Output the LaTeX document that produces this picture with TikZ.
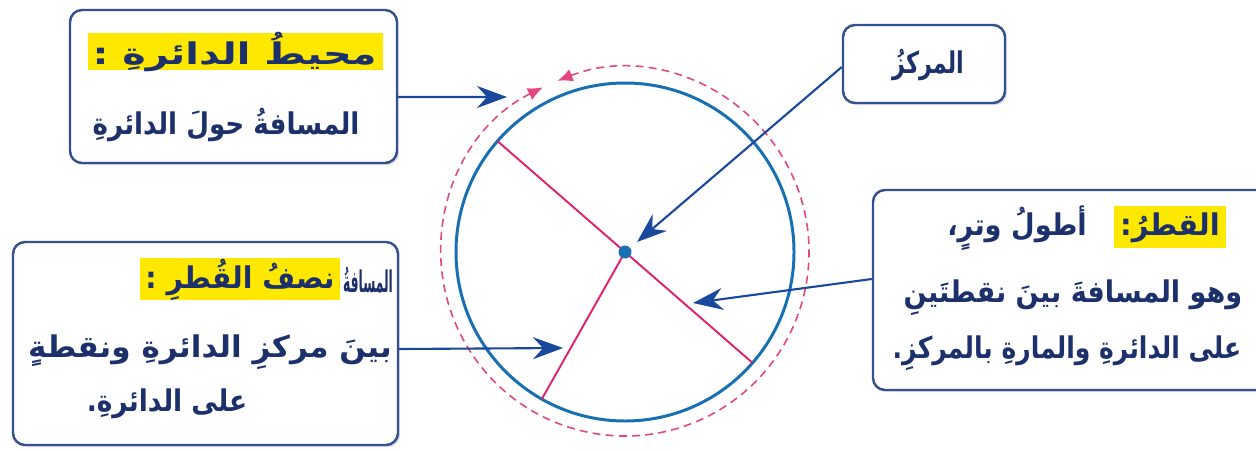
\documentclass[tikz,border=0pt]{standalone}
\usepackage{fontspec}
\usetikzlibrary{arrows.meta,shadows,calc}
\TeXXeTstate=1
\newfontfamily\arfont[Script=Arabic]{DejaVu Sans}
\definecolor{boxline}{RGB}{52,80,143}
\definecolor{txt}{RGB}{28,48,108}
\definecolor{hl}{RGB}{255,232,0}
\definecolor{circblue}{RGB}{24,112,178}
\definecolor{magline}{RGB}{226,34,110}
\definecolor{magdash}{RGB}{228,70,130}
\definecolor{arrblue}{RGB}{26,72,156}
\newsavebox\arbox
% #1 = target width in px (1px = 0.5669pt); #2 = text (with \beginR ... \endR)
\newcommand\ARW[2]{\sbox\arbox{\arfont\bfseries\fontsize{17}{20}\selectfont #2}%
  \pgfmathsetmacro\arsx{#1*0.5669/\wd\arbox}%
  \scalebox{\arsx}[1]{\usebox\arbox}}
\tikzset{
  infobox/.style={draw=boxline, line width=1.4pt, fill=white, rounded corners=2.4mm,
    drop shadow={opacity=0.25, shadow xshift=1.2pt, shadow yshift=-1.2pt}},
  hlbox/.style={fill=hl, inner sep=0pt},
  label/.style={text=txt, inner sep=0pt},
  conn/.style={draw=arrblue, line width=1.2pt, -{Stealth[length=6mm,width=4.4mm,inset=2mm]}},
}
\begin{document}
\begin{tikzpicture}[x=0.02cm,y=-0.02cm]
\useasboundingbox (0,0) rectangle (1256,450);
\fill[white] (0,0) rectangle (1256,450);
\begin{scope}
\clip (0,0) rectangle (1256,450);
% boxes
\node[infobox, minimum width={327*0.02cm}, minimum height={153*0.02cm}] (b1) at (233.5,86.5) {};
\node[infobox, minimum width={162*0.02cm}, minimum height={78*0.02cm}] (b2) at (924,64) {};
\node[infobox, minimum width={417*0.02cm}, minimum height={200*0.02cm}] (b3) at (1081.5,290) {};
\node[infobox, minimum width={385*0.02cm}, minimum height={203*0.02cm}] (b4) at (205.5,343.5) {};
% highlights
\node[hlbox, minimum width={295*0.02cm}, minimum height={37*0.02cm}] (h1) at (235.5,51.5) {};
\node[hlbox, minimum width={112*0.02cm}, minimum height={42*0.02cm}] (h3) at (1170,227) {};
\node[hlbox, minimum width={200*0.02cm}, minimum height={42*0.02cm}] (h4) at (240,279) {};
% texts
\node[label] (t1a) at (234.5,52) {\ARW{285}{\beginR محيطُ الدائرةِ :\endR}};
\node[label] (t1b) at (226,125) {\ARW{268}{\beginR المسافةُ حولَ الدائرةِ\endR}};
\node[label] (t2) at (928,65) {\ARW{72}{\beginR المركزُ\endR}};
\node[label] (t3a) at (1170,228) {\ARW{100}{\beginR القطرُ:\endR}};
\node[label] (t3b) at (1017,228) {\ARW{140}{\beginR أطولُ وترٍ،\endR}};
\node[label] (t3c) at (1073,298) {\ARW{340}{\beginR وهو المسافةَ بينَ نقطتَينِ\endR}};
\node[label] (t3d) at (1067,353) {\ARW{350}{\beginR على الدائرةِ والمارةِ بالمركزِ.\endR}};
\node[label] (t4a) at (240,280) {\ARW{190}{\beginR نصفُ القُطرِ :\endR}};
\node[label] (t4b) at (368,280) {\ARW{50}{\beginR المسافةُ\endR}};
\node[label] (t4c) at (210,352) {\ARW{365}{\beginR بينَ مركزِ الدائرةِ ونقطةٍ\endR}};
\node[label] (t4d) at (167,404) {\ARW{161}{\beginR على الدائرةِ.\endR}};
\end{scope}
% circle
\coordinate (O) at (625,252);
\draw[magdash, line width=0.9pt, dash pattern=on 4.5pt off 3pt,
  {Latex[length=3mm,width=2.6mm]}-{Latex[length=3mm,width=2.6mm]}]
  ($(O)+(-116.5:184)$) arc[start angle=-116.5, end angle=-471.5, radius=184];
\draw[circblue, line width=1.7pt] (O) circle[radius=169];
\coordinate (d1) at ($(O)+(-139:169)$);
\coordinate (d2) at ($(O)+(41:169)$);
\coordinate (r1) at ($(O)+(119.5:169)$);
\draw[magline, line width=1.1pt] (d1) -- (d2);
\draw[magline, line width=1.1pt] (O) -- (r1);
\fill[circblue] (O) circle[radius=6.5];
% connectors
\coordinate (p1) at (507,97);
\coordinate (p2) at (637,242);
\coordinate (p3) at (693,303);
\coordinate (p4) at (563,348);
\draw[conn] ([yshift=-0.21cm]b1.east) -- (p1);
\draw[conn] ([yshift=-0.06cm]b2.west) -- (p2);
\draw[conn] ([yshift=0.22cm]b3.west) -- (p3);
\draw[conn] ([yshift=-0.11cm]b4.east) -- (p4);
\end{tikzpicture}
\end{document}
